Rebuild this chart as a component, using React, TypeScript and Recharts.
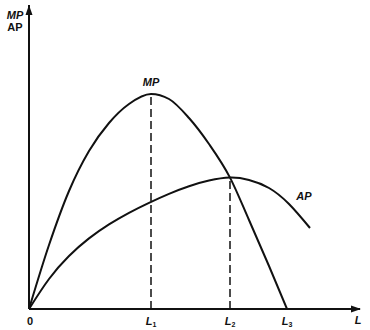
import React from 'react';
import { LineChart, Line, XAxis, YAxis, ReferenceLine, ReferenceDot } from 'recharts';

// Labour input positions (L1, L2, L3) and axis extents
const L1 = 6.1;
const L2 = 10.05;
const L3 = 12.9;
const X_MAX = 16.55;
const Y_MAX = 15.2;
const MP_MAX = 10.75;
const AP_MAX = 6.57;

const xTicks = [0, L1, L2, L3];
const tickSubs = ['', '1', '2', '3'];

// Marginal product curve
const mpX = [0, 1, 2, 3, 4, 5, 6.1, 7, 8, 9, 10.05, 11, 12, 12.9];
const mpY = [0, 3.2, 5.9, 7.9, 9.3, 10.25, 10.75, 10.5, 9.55, 8.25, 6.57, 4.45, 2.15, 0];

// Average product curve
const apX = [0, 1, 2, 3, 4, 5, 6, 7, 8, 9, 10.05, 11, 12, 13, 14.05];
const apY = [0, 1.5, 2.65, 3.53, 4.23, 4.81, 5.31, 5.76, 6.14, 6.42, 6.57, 6.45, 6.05, 5.25, 4.05];

const mpData = mpX.map((x, i) => ({ x, y: mpY[i] }));
const apData = apX.map((x, i) => ({ x, y: apY[i] }));

const INK = '#111';
const FONT = '"Liberation Sans", Arial, sans-serif';

const Tick = (props: any) => {
  const { x, y, payload, index } = props;
  const sub = tickSubs[index] ?? '';
  if (payload.value === 0) {
    return (
      <text x={x + 1} y={y + 8} textAnchor="middle" fontFamily={FONT} fontWeight="bold" fontSize={11} fill={INK}>
        0
      </text>
    );
  }
  return (
    <text x={x} y={y + 8} textAnchor="middle" fontFamily={FONT} fontWeight="bold" fontStyle="italic" fontSize={11} fill={INK}>
      L<tspan fontSize={7} dy={2} fontStyle="normal">{sub}</tspan>
    </text>
  );
};

const RightArrow = (props: any) => {
  const { cx, cy } = props;
  return <polygon points={`${cx + 1},${cy} ${cx - 9},${cy - 3.5} ${cx - 9},${cy + 3.5}`} fill={INK} />;
};

const UpArrow = (props: any) => {
  const { cx, cy } = props;
  return <polygon points={`${cx},${cy} ${cx - 3.5},${cy + 10} ${cx + 3.5},${cy + 10}`} fill={INK} />;
};

const TextMark = (label: string, dx: number, dy: number, italic = true) => (props: any) => {
  const { cx, cy } = props;
  return (
    <text x={cx + dx} y={cy + dy} textAnchor="middle" fontFamily={FONT} fontWeight="bold" fontStyle={italic ? 'italic' : 'normal'} fontSize={11} fill={INK}>
      {label}
    </text>
  );
};

const AxisTitle = () => (props: any) => {
  const { cx, cy } = props;
  return (
    <g>
      <text x={cx - 14} y={cy + 14} textAnchor="middle" fontFamily={FONT} fontWeight="bold" fontStyle="italic" fontSize={11} fill={INK}>MP</text>
      <text x={cx - 14} y={cy + 26} textAnchor="middle" fontFamily={FONT} fontWeight="bold" fontSize={11} fill={INK}>AP</text>
    </g>
  );
};

export default function App() {
  return (
    <div style={{ position: 'absolute', left: 0, top: 0, background: '#fff' }}>
      <LineChart width={370} height={330} margin={{ top: 5, right: 10, bottom: 0, left: 0 }}>
        <XAxis
          type="number"
          dataKey="x"
          domain={[0, X_MAX]}
          ticks={xTicks}
          tick={<Tick />}
          tickLine={false}
          axisLine={{ stroke: INK, strokeWidth: 2 }}
          height={21}
          allowDataOverflow
          interval={0}
        />
        <YAxis
          type="number"
          dataKey="y"
          domain={[0, Y_MAX]}
          tick={false}
          tickLine={false}
          axisLine={{ stroke: INK, strokeWidth: 2 }}
          width={29}
          allowDataOverflow
        />
        <ReferenceLine segment={[{ x: L1, y: 0 }, { x: L1, y: MP_MAX }]} stroke={INK} strokeWidth={1.5} strokeDasharray="8 4" />
        <ReferenceLine segment={[{ x: L2, y: 0 }, { x: L2, y: AP_MAX }]} stroke={INK} strokeWidth={1.5} strokeDasharray="8 4" />
        <Line data={mpData} dataKey="y" type="monotone" stroke={INK} strokeWidth={2} dot={false} isAnimationActive={false} />
        <Line data={apData} dataKey="y" type="natural" stroke={INK} strokeWidth={2} dot={false} isAnimationActive={false} />
        <ReferenceDot x={X_MAX} y={0} ifOverflow="visible" shape={<RightArrow />} />
        <ReferenceDot x={0} y={Y_MAX} ifOverflow="visible" shape={<UpArrow />} />
        <ReferenceDot x={0} y={Y_MAX} ifOverflow="visible" shape={AxisTitle()} />
        <ReferenceDot x={X_MAX} y={0} ifOverflow="visible" shape={TextMark('L', -2, 15)} />
        <ReferenceDot x={L1} y={MP_MAX} ifOverflow="visible" shape={TextMark('MP', 0, -8)} />
        <ReferenceDot x={apX[apX.length - 1]} y={apY[apY.length - 1]} ifOverflow="visible" shape={TextMark('AP', -6, -28)} />
      </LineChart>
    </div>
  );
}
